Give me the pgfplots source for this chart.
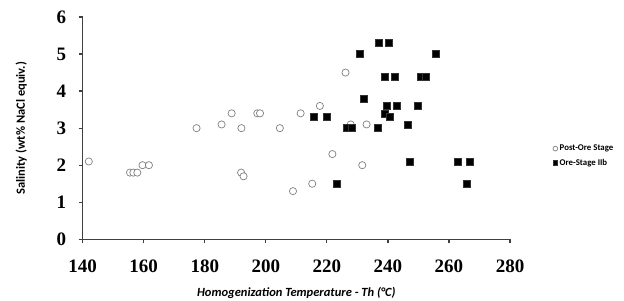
\documentclass[border=0pt]{standalone}
\usepackage{pgfplots}
\pgfplotsset{compat=1.18}
\usepackage{fontspec}
\setmainfont{Liberation Serif}
\newfontfamily\calibri{Carlito}
\begin{document}
\begin{tikzpicture}[x=1pt,y=1pt]
\useasboundingbox (0,0) rectangle (624,300);
\begin{axis}[
  at={(82.7pt,60.7pt)}, anchor=south west,
  scale only axis, width=427.3pt, height=222.3pt,
  xmin=140, xmax=280, ymin=0, ymax=6,
  axis lines*=left,
  axis line style={line width=1.4pt, color=black!75},
  xtick={140,160,...,280}, ytick={0,1,...,6},
  tick style={line width=1.2pt, color=black!75},
  tick align=outside, major tick length=4pt,
  /pgf/number format/assume math mode=true,
  ticklabel style={font=\fontsize{19}{19}\selectfont\bfseries},
  xticklabel style={yshift=-13pt},
  yticklabel style={xshift=-9pt},
  xlabel={\calibri\bfseries\itshape Homogenization Temperature - Th (°C)},
  ylabel={\calibri\bfseries Salinity (wt\% NaCl equiv.)},
  label style={font=\fontsize{12.5}{13}\selectfont},
  xlabel style={yshift=-8pt},
  ylabel style={yshift=23pt},
  legend style={at={(1.1,0.375)}, anchor=west, draw=none, fill=none,
    font=\calibri\bfseries\fontsize{8.8}{10}\selectfont, row sep=3pt,
    inner sep=0pt},
  legend cell align=left,
  legend image code/.code={\draw[#1, mark size=2.4pt] (0pt,0pt) plot coordinates {(0pt,0pt)};},
]
\addplot[only marks, mark=*, mark size=3.6pt,
  mark options={draw=black!50, fill=white, line width=0.7pt}] coordinates {
(142,2.1) (155.5,1.8) (156.6,1.8) (157.9,1.8) (159.6,2.0) (161.7,2.0)
(177.3,3.0) (185.5,3.1) (188.8,3.4) (192,3.0) (191.9,1.8) (192.7,1.7)
(197.2,3.4) (198.1,3.4) (204.6,3.0) (208.9,1.3) (211.4,3.4) (215.2,1.5)
(217.7,3.6) (221.8,2.3) (226.1,4.5) (227.8,3.1) (231.6,2.0) (233,3.1)
};
\addlegendentry{Post-Ore Stage}
\addplot[only marks, mark=square*, mark size=3.5pt,
  mark options={draw=black!80, fill=black, line width=0.5pt}] coordinates {
(237.0,5.3) (240.3,5.3) (230.8,5.0) (255.8,5.0)
(238.9,4.4) (242.2,4.4) (250.6,4.4) (252.5,4.4)
(232.1,3.8) (239.6,3.6) (242.9,3.6) (249.7,3.6)
(238.9,3.4) (215.7,3.3) (220.0,3.3) (240.5,3.3)
(226.6,3.0) (228.2,3.0) (236.6,3.0) (246.5,3.1)
(247.0,2.1) (262.9,2.1) (266.9,2.1) (223.1,1.5) (265.9,1.5)
};
\addlegendentry{Ore-Stage IIb}
\end{axis}
\end{tikzpicture}
\end{document}
